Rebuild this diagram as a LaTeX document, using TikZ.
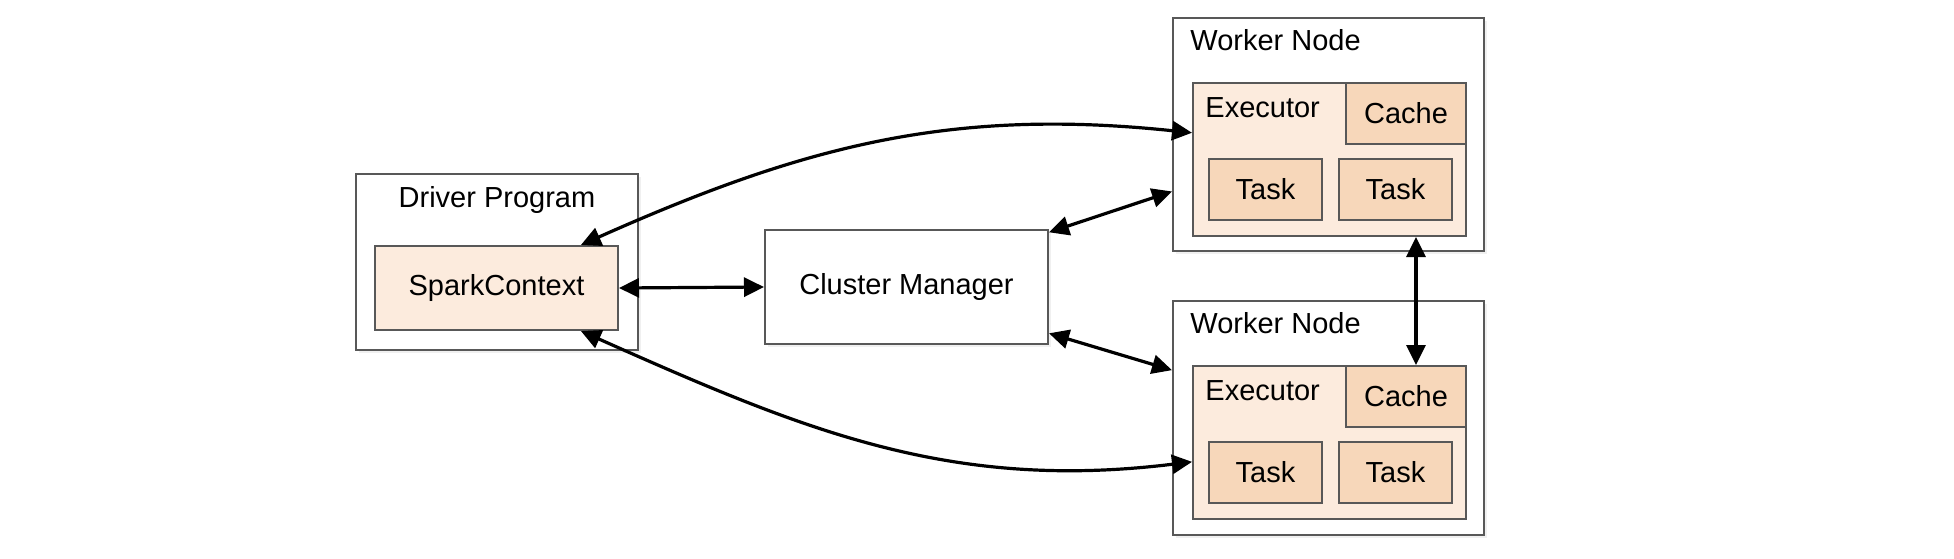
\documentclass[tikz,border=0pt]{standalone}
\usepackage{fontspec}
\setmainfont{Liberation Sans}
\usepackage{tikz}
\usetikzlibrary{arrows.meta,shadows}

\definecolor{execfill}{RGB}{252,235,221}
\definecolor{taskfill}{RGB}{247,215,186}
\definecolor{boxline}{RGB}{88,88,88}

\begin{document}
\begin{tikzpicture}[x=0.5pt,y=-0.5pt,
		font=\fontsize{14.5}{17}\selectfont,
		outerbox/.style={rectangle,draw=boxline,line width=1pt,fill=white,inner sep=0pt,
			drop shadow={opacity=0.12,shadow xshift=1.5pt,shadow yshift=-1.5pt}},
		execbox/.style={rectangle,draw=boxline,line width=1pt,fill=execfill,inner sep=0pt},
		taskbox/.style={rectangle,draw=boxline,line width=1pt,fill=taskfill,inner sep=0pt,
			minimum height=30.5pt}]
		\useasboundingbox (0,0) rectangle (1954,558);

		% driver and cluster manager
		\node[outerbox,minimum width=141pt,minimum height=88pt] (drv) at (497,262) {};
		\node[anchor=base,inner sep=0pt] (drvlbl) at (497,207) {Driver Program};
		\node[execbox,minimum width=121.5pt,minimum height=42pt] (sc) at (496.5,288) {SparkContext};
		\node[outerbox,minimum width=141.5pt,minimum height=57pt] (cm) at (906.5,287) {Cluster Manager};

		% first worker
		\node[outerbox,minimum width=155.5pt,minimum height=116.5pt] (w1) at (1328.5,134.5) {};
		\node[anchor=base west,inner sep=0pt] (wlbl1) at (1190,50) {Worker Node};
		\node[execbox,minimum width=136.5pt,minimum height=76.5pt] (ex1) at (1329.5,159.5) {};
		\node[anchor=base west,inner sep=0pt] (exlbl1) at (1205,117) {Executor};
		\node[taskbox,minimum width=60pt] (ca1) at (1406,113.5) {Cache};
		\node[taskbox,minimum width=56.5pt] (t1a) at (1265.5,189.5) {Task};
		\node[taskbox,minimum width=56.5pt] (t1b) at (1395.5,189.5) {Task};

		% second worker
		\node[outerbox,minimum width=155.5pt,minimum height=117pt] (w2) at (1328.5,418) {};
		\node[anchor=base west,inner sep=0pt] (wlbl2) at (1190,333) {Worker Node};
		\node[execbox,minimum width=136.5pt,minimum height=76.5pt] (ex2) at (1329.5,442.5) {};
		\node[anchor=base west,inner sep=0pt] (exlbl2) at (1205,400) {Executor};
		\node[taskbox,minimum width=60pt] (ca2) at (1406,396.5) {Cache};
		\node[taskbox,minimum width=56.5pt] (t2a) at (1265.5,472.5) {Task};
		\node[taskbox,minimum width=56.5pt] (t2b) at (1395.5,472.5) {Task};

		\begin{scope}[>={Triangle[length=10pt,width=9.5pt]},
			every edge/.style={draw=black,line width=1.6pt}]
			\path [<->] (sc.27) edge[out=24,in=174] (ex1.169);
			\path [<->] (sc.333) edge[out=-24,in=187] (ex2.188);
			\path [<->] (sc.east) edge (cm.west);
			\path [<->] (cm.21) edge (w1.200);
			\path [<->] (cm.-18) edge (w2.163);
			\path [<->] ([xshift=5pt]ca1.south |- ex1.south) edge ([xshift=5pt]ca2.north);
		\end{scope}
	\end{tikzpicture}
\end{document}
